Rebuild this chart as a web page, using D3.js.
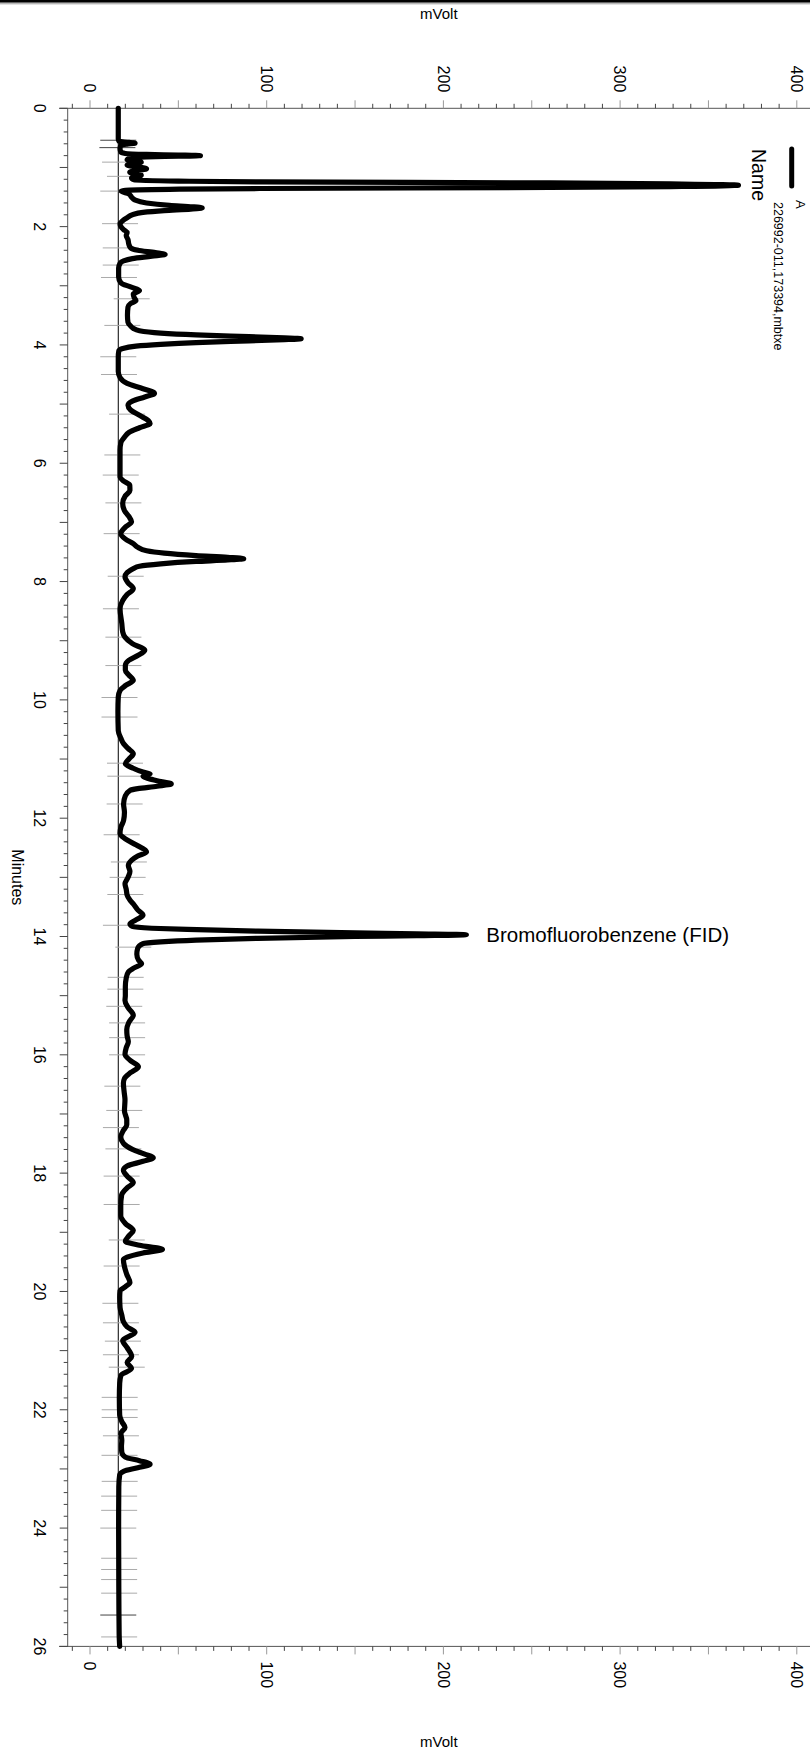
<!DOCTYPE html>
<html>
<head>
<meta charset="utf-8">
<script src="https://cdn.jsdelivr.net/npm/d3@7/dist/d3.min.js"></script>
<style>
html,body{margin:0;padding:0;background:#fff;}
svg{display:block;}
text{font-family:"Liberation Sans",Arial,sans-serif;fill:#000;}
</style>
</head>
<body>
<svg id="chart" width="810" height="1750"></svg>
<script>
// ---------- DATA ----------
const traceTime = [0,0.3,0.52,0.56,0.575,0.59,0.605,0.625,0.68,0.74,0.765,0.78,0.79,0.80,0.81,0.822,0.84,
0.87,0.91,0.96,1.02,1.08,1.13,1.18,1.21,1.23,1.244,1.261,1.28,1.30,1.32,1.339,1.356,1.37,1.385,1.40,
1.45,1.50,1.55,1.60,1.64,1.665,1.685,1.705,1.73,1.76,1.80,1.85,1.90,1.95,2.00,
2.05,2.10,2.15,2.22,2.30,2.36,2.40,2.44,2.47,2.50,2.54,2.58,2.62,2.70,2.85,2.95,
3.02,3.08,3.14,3.20,3.25,3.30,3.36,3.50,3.62,3.68,3.72,3.76,3.80,3.83,3.86,3.88,3.894,3.91,3.93,3.96,3.99,4.02,4.06,4.10,
4.20,4.45,4.55,4.65,4.74,4.82,4.88,4.95,5.02,5.10,5.19,5.28,5.33,5.40,5.48,5.56,5.65,5.78,6.00,6.23,6.30,6.37,6.46,6.55,6.68,6.80,6.90,6.99,7.08,7.19,7.28,7.36,
7.42,7.48,7.52,7.56,7.59,7.613,7.635,7.66,7.70,7.74,7.78,7.85,7.92,8.02,8.12,8.22,8.32,8.46,8.71,8.85,8.94,9.05,9.16,9.25,9.33,9.42,9.50,9.58,9.67,9.76,9.84,9.95,10.2,10.52,
10.65,10.74,10.82,10.91,11.0,11.08,11.15,11.22,11.25,11.29,11.33,11.38,11.42,11.46,11.50,11.53,11.62,11.76,11.90,12.04,12.15,12.26,12.35,12.45,12.57,12.64,12.71,12.80,12.90,13.00,13.11,13.20,13.30,13.38,13.45,13.55,13.64,13.72,13.79,
13.83,13.86,13.88,13.91,13.94,13.955,13.97,13.985,14.0,14.03,14.06,14.09,14.12,
14.20,14.30,14.40,14.46,14.53,14.60,14.70,14.85,15.0,15.08,15.20,15.33,15.45,15.57,15.68,15.78,15.88,15.99,16.10,16.2,16.30,16.40,16.48,16.62,16.76,16.95,17.10,17.18,17.30,17.39,17.50,17.60,17.68,17.74,17.80,17.88,17.95,
18.05,18.16,18.25,18.37,18.55,18.72,18.85,18.97,19.06,19.15,19.22,19.29,19.35,19.42,19.46,19.58,19.71,19.85,19.92,19.99,20.10,20.27,20.40,20.51,20.60,20.69,20.83,20.95,21.1,21.2,21.3,21.42,21.55,21.8,22.09,
22.2,22.30,22.40,22.51,22.62,22.72,22.80,22.86,22.92,22.98,23.04,23.10,23.30,24.0,25.0,25.8,26.0];
const traceMv = [16.0,16.0,16.0,16.5,22,25.5,21,17.5,17,17.5,20,32,50,62.5,50,32,23,
21,29,21,32,22.5,29,23.5,25,50,96,260,335,367,335,260,96,45,20,17.5,
22,23.5,25.5,32,45,58,63.5,57,42,30,24,21,18.5,17,17.5,
19,21,20.5,21.5,22,23,27,37,42.5,35,24,19,17,16.2,16.2,17.5,
23,28,24.5,25,26,23,21.5,21.2,21.5,23,24.5,28,40,60,90,110,119.5,110,90,60,40,26,18.5,16.3,
16,16,17,21,30,36.5,31,24,21.5,23,28,33,34,28,22,19.5,17.5,17,17,17,19,22.5,22.6,20,18.5,19.5,22,23.5,20,17.4,20,24.5,
27,32,42,60,78,87,78,60,40,28,24.5,21,19.8,21.5,24.5,21,18.5,17,18,18.5,19.8,24,31,27,22,20,20,22,24.5,20,17,16,15.8,16,
17.5,19,21.5,24.5,22,20,24,30,34,30,33,40,46,38,27,22.6,20,19,19.5,19,17.5,17,20,26,32,27,23.6,21.7,22.6,21.5,19.8,20.5,21,22.5,24.5,27,30,26,22.6,
24,35,55,95,150,185,213,185,150,95,60,40,30,
27,26.5,27.5,29.2,25,21.7,20.5,20,20,19.8,21.5,24.5,22,20.8,21,21.7,20.5,19.8,23,27.4,23,19.5,18.9,19.3,19.8,19.5,20.8,20.8,18.5,17.4,19,24,31,35.8,30,21,18.9,
21,24.5,21,17.9,17.4,17.4,20,24.5,22,20,28,41,30,21,18.9,19.5,20.8,22.6,20,17,16.8,17,18,18.9,21,25.5,18.5,21,23.6,21,23.5,17.5,16.8,16.6,16.8,
18,19.8,17.5,18,17.8,18,20,28,34,27,19,16.8,16.3,16.2,16.3,16.5,16.8];

const markerTimes = [0.54,0.665,0.91,1.15,1.40,1.95,2.36,2.65,2.86,3.22,3.67,4.20,4.50,5.17,5.86,6.20,6.67,7.19,7.91,8.46,8.94,9.42,9.96,10.29,11.07,11.29,11.76,12.28,12.74,13.0,13.29,13.81,14.18,14.69,14.89,15.18,15.46,15.71,16.0,16.53,16.94,17.23,17.59,18.05,18.53,19.13,19.57,20.20,20.53,20.84,21.07,21.28,21.79,22.0,22.13,22.44,22.77,23.21,23.46,23.70,24.0,24.51,24.70,24.87,25.10,25.47,25.84];
const markerMv = [16,15.5,17,19.8,16,17,17.4,17.4,16.4,23.6,18.3,16,16.4,21,18.3,17.4,18.9,17.9,20.2,17.5,18.9,18.9,16.7,16.7,19.8,20,19.6,17.9,22,21.3,20,17.5,24.5,20.2,20,19.4,21,21,21,18.3,19.4,17.5,18.9,17.9,17.9,20.8,17.9,17.2,17.5,18.6,17.5,20.8,16.8,16.8,16.8,17.5,16.7,16.8,16.5,16.5,16,16.5,16.5,16.5,16.5,16,16.5];
const darkMarkers = [0.54,0.665,25.47];

const baselineMv = 16.0;
const minuteLabels = [0,2,4,6,8,10,12,14,16,18,20,22,24,26];
const mvLabels = [0,100,200,300,400];
const legendName = "A";
const legendFile = "226992-011,173394,mbtxe";
const peakLabel = {time: 13.97, mv: 213, text: "Bromofluorobenzene (FID)"};

// ---------- LAYOUT ----------
const svg = d3.select("#chart");
const L = 67.7, R = 810, T = 108.3, B = 1646.4;
const y = d3.scaleLinear().domain([0, 26]).range([T, B]);
const x = d3.scaleLinear().domain([0, 400]).range([90, 796.8]);
const mvMin = x.invert(L), mvMax = x.invert(R);

// page border at top
svg.append("rect").attr("x",0).attr("y",0).attr("width",810).attr("height",2.6).attr("fill","#000");
svg.append("line").attr("x1",0).attr("x2",810).attr("y1",3.8).attr("y2",3.8).attr("stroke","#999").attr("stroke-width",1);

// axis lines
const axisColor = "#555";
svg.append("line").attr("x1",L).attr("x2",L).attr("y1",T).attr("y2",B).attr("stroke",axisColor).attr("stroke-width",1);
svg.append("line").attr("x1",59).attr("x2",R).attr("y1",T).attr("y2",T).attr("stroke",axisColor).attr("stroke-width",1);
svg.append("line").attr("x1",59).attr("x2",R).attr("y1",B).attr("y2",B).attr("stroke",axisColor).attr("stroke-width",1);

// mV ticks (top and bottom)
const mvTicks = d3.range(-10, 401, 10).filter(v => v >= mvMin && v <= mvMax);
mvTicks.forEach(v => {
  const major = v % 50 === 0;
  const len = major ? 8 : 4.5;
  const col = major ? "#999" : "#444";
  svg.append("line").attr("x1",x(v)).attr("x2",x(v)).attr("y1",T).attr("y2",T-len).attr("stroke",col).attr("stroke-width",1);
  svg.append("line").attr("x1",x(v)).attr("x2",x(v)).attr("y1",B).attr("y2",B+len).attr("stroke",col).attr("stroke-width",1);
});
mvLabels.forEach(v => {
  svg.append("text").attr("transform",`translate(${x(v)},${T-16}) rotate(90)`)
    .attr("text-anchor","end").attr("dy","0.35em").attr("font-size",16).text(v);
  svg.append("text").attr("transform",`translate(${x(v)},${B+15}) rotate(90)`)
    .attr("text-anchor","start").attr("dy","0.35em").attr("font-size",16).text(v);
});
svg.append("text").attr("x",(L+R)/2).attr("y",19).attr("text-anchor","middle").attr("font-size",15).text("mVolt");
svg.append("text").attr("x",(L+R)/2).attr("y",1747).attr("text-anchor","middle").attr("font-size",15).text("mVolt");

// minute ticks (left)
const minTicks = d3.range(0, 130.5, 1).map(i => i/5);
minTicks.forEach(t => {
  const major = Math.abs(t - Math.round(t)) < 1e-6;
  const len = major ? 8 : 4;
  svg.append("line").attr("x1",L).attr("x2",L-len).attr("y1",y(t)).attr("y2",y(t)).attr("stroke","#444").attr("stroke-width",1);
});
minuteLabels.forEach(t => {
  svg.append("text").attr("transform",`translate(40,${y(t)}) rotate(90)`)
    .attr("text-anchor","middle").attr("dy","0.35em").attr("font-size",16).text(t);
});
svg.append("text").attr("transform",`translate(12,${(T+B)/2}) rotate(90)`)
  .attr("text-anchor","middle").attr("font-size",16).text("Minutes");

// baseline
svg.append("line").attr("x1",x(baselineMv)).attr("x2",x(baselineMv)).attr("y1",T).attr("y2",B)
  .attr("stroke","#000").attr("stroke-width",1);

// peak integration markers
markerTimes.forEach((t,i) => {
  const dark = darkMarkers.includes(t);
  svg.append("line").attr("x1",x(markerMv[i])-18).attr("x2",x(markerMv[i])+18)
    .attr("y1",y(t)).attr("y2",y(t))
    .attr("stroke",dark ? "#444" : "#aaa").attr("stroke-width",1);
});

// trace
const pts = traceTime.map((t,i) => [t, traceMv[i]]);
const line = d3.line().x(d => x(d[1])).y(d => y(d[0])).curve(d3.curveMonotoneY);
svg.append("path").attr("d", line(pts)).attr("fill","none").attr("stroke","#000")
  .attr("stroke-width",5.2).attr("stroke-linejoin","round").attr("stroke-linecap","round");

// peak label
svg.append("text").attr("x", x(peakLabel.mv) + 20).attr("y", y(peakLabel.time)).attr("dy","0.35em")
  .attr("font-size",20.5).text(peakLabel.text);

// legend
svg.append("line").attr("x1",791.7).attr("x2",791.7).attr("y1",149).attr("y2",186)
  .attr("stroke","#000").attr("stroke-width",5).attr("stroke-linecap","round");
svg.append("text").attr("transform","translate(752,149) rotate(90)").attr("font-size",19.5).text("Name");
svg.append("text").attr("transform","translate(795.5,200) rotate(90)").attr("font-size",13).text(legendName);
svg.append("text").attr("transform","translate(773.5,202) rotate(90)").attr("font-size",12.5).text(legendFile);
</script>
</body>
</html>
